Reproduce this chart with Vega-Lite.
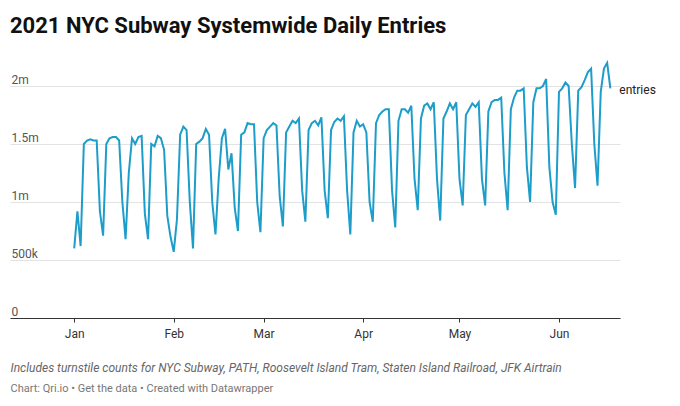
{
  "$schema": "https://vega.github.io/schema/vega-lite/v6.json",
  "width": 610,
  "height": 261,
  "autosize": {"type": "none"},
  "padding": {"left": 10, "top": 57, "right": 60, "bottom": 88},
  "config": {
    "font": "Roboto",
    "view": {"stroke": null},
    "axis": {"labelFont": "Roboto", "titleFont": "Roboto"}
  },
  "title": {
    "text": "2021 NYC Subway Systemwide Daily Entries",
    "anchor": "start",
    "frame": "group",
    "fontSize": 22,
    "fontWeight": "bold",
    "color": "#111",
    "offset": 19
  },
  "data": {
    "values": [
      {"d":"2021-01-01","e":600000},{"d":"2021-01-02","e":920000},{"d":"2021-01-03","e":620000},{"d":"2021-01-04","e":1500000},{"d":"2021-01-05","e":1530000},{"d":"2021-01-06","e":1540000},{"d":"2021-01-07","e":1530000},{"d":"2021-01-08","e":1530000},{"d":"2021-01-09","e":920000},{"d":"2021-01-10","e":710000},
      {"d":"2021-01-11","e":1500000},{"d":"2021-01-12","e":1550000},{"d":"2021-01-13","e":1560000},{"d":"2021-01-14","e":1560000},{"d":"2021-01-15","e":1530000},{"d":"2021-01-16","e":1000000},{"d":"2021-01-17","e":680000},{"d":"2021-01-18","e":1250000},{"d":"2021-01-19","e":1550000},{"d":"2021-01-20","e":1500000},
      {"d":"2021-01-21","e":1560000},{"d":"2021-01-22","e":1570000},{"d":"2021-01-23","e":900000},{"d":"2021-01-24","e":680000},{"d":"2021-01-25","e":1500000},{"d":"2021-01-26","e":1480000},{"d":"2021-01-27","e":1570000},{"d":"2021-01-28","e":1550000},{"d":"2021-01-29","e":1450000},{"d":"2021-01-30","e":880000},{"d":"2021-01-31","e":700000},
      {"d":"2021-02-01","e":570000},{"d":"2021-02-02","e":850000},{"d":"2021-02-03","e":1580000},{"d":"2021-02-04","e":1650000},{"d":"2021-02-05","e":1620000},{"d":"2021-02-06","e":1000000},{"d":"2021-02-07","e":600000},{"d":"2021-02-08","e":1500000},{"d":"2021-02-09","e":1520000},{"d":"2021-02-10","e":1550000},
      {"d":"2021-02-11","e":1630000},{"d":"2021-02-12","e":1580000},{"d":"2021-02-13","e":1000000},{"d":"2021-02-14","e":720000},{"d":"2021-02-15","e":1200000},{"d":"2021-02-16","e":1550000},{"d":"2021-02-17","e":1630000},{"d":"2021-02-18","e":1280000},{"d":"2021-02-19","e":1420000},{"d":"2021-02-20","e":950000},
      {"d":"2021-02-21","e":750000},{"d":"2021-02-22","e":1580000},{"d":"2021-02-23","e":1600000},{"d":"2021-02-24","e":1680000},{"d":"2021-02-25","e":1670000},{"d":"2021-02-26","e":1670000},{"d":"2021-02-27","e":1000000},{"d":"2021-02-28","e":740000},
      {"d":"2021-03-01","e":1550000},{"d":"2021-03-02","e":1620000},{"d":"2021-03-03","e":1650000},{"d":"2021-03-04","e":1680000},{"d":"2021-03-05","e":1660000},{"d":"2021-03-06","e":1050000},{"d":"2021-03-07","e":790000},{"d":"2021-03-08","e":1600000},{"d":"2021-03-09","e":1650000},{"d":"2021-03-10","e":1700000},
      {"d":"2021-03-11","e":1680000},{"d":"2021-03-12","e":1720000},{"d":"2021-03-13","e":1100000},{"d":"2021-03-14","e":830000},{"d":"2021-03-15","e":1620000},{"d":"2021-03-16","e":1680000},{"d":"2021-03-17","e":1700000},{"d":"2021-03-18","e":1660000},{"d":"2021-03-19","e":1730000},{"d":"2021-03-20","e":1100000},
      {"d":"2021-03-21","e":860000},{"d":"2021-03-22","e":1620000},{"d":"2021-03-23","e":1690000},{"d":"2021-03-24","e":1720000},{"d":"2021-03-25","e":1700000},{"d":"2021-03-26","e":1740000},{"d":"2021-03-27","e":1100000},{"d":"2021-03-28","e":720000},{"d":"2021-03-29","e":1600000},{"d":"2021-03-30","e":1700000},{"d":"2021-03-31","e":1650000},
      {"d":"2021-04-01","e":1670000},{"d":"2021-04-02","e":1600000},{"d":"2021-04-03","e":1000000},{"d":"2021-04-04","e":830000},{"d":"2021-04-05","e":1680000},{"d":"2021-04-06","e":1750000},{"d":"2021-04-07","e":1780000},{"d":"2021-04-08","e":1800000},{"d":"2021-04-09","e":1800000},{"d":"2021-04-10","e":1100000},
      {"d":"2021-04-11","e":780000},{"d":"2021-04-12","e":1700000},{"d":"2021-04-13","e":1800000},{"d":"2021-04-14","e":1800000},{"d":"2021-04-15","e":1770000},{"d":"2021-04-16","e":1830000},{"d":"2021-04-17","e":1200000},{"d":"2021-04-18","e":930000},{"d":"2021-04-19","e":1720000},{"d":"2021-04-20","e":1830000},
      {"d":"2021-04-21","e":1850000},{"d":"2021-04-22","e":1800000},{"d":"2021-04-23","e":1860000},{"d":"2021-04-24","e":1200000},{"d":"2021-04-25","e":840000},{"d":"2021-04-26","e":1720000},{"d":"2021-04-27","e":1780000},{"d":"2021-04-28","e":1850000},{"d":"2021-04-29","e":1800000},{"d":"2021-04-30","e":1860000},
      {"d":"2021-05-01","e":1200000},{"d":"2021-05-02","e":970000},{"d":"2021-05-03","e":1750000},{"d":"2021-05-04","e":1800000},{"d":"2021-05-05","e":1850000},{"d":"2021-05-06","e":1820000},{"d":"2021-05-07","e":1860000},{"d":"2021-05-08","e":1200000},{"d":"2021-05-09","e":970000},{"d":"2021-05-10","e":1780000},
      {"d":"2021-05-11","e":1860000},{"d":"2021-05-12","e":1880000},{"d":"2021-05-13","e":1880000},{"d":"2021-05-14","e":1900000},{"d":"2021-05-15","e":1250000},{"d":"2021-05-16","e":930000},{"d":"2021-05-17","e":1800000},{"d":"2021-05-18","e":1900000},{"d":"2021-05-19","e":1960000},{"d":"2021-05-20","e":1960000},
      {"d":"2021-05-21","e":1980000},{"d":"2021-05-22","e":1300000},{"d":"2021-05-23","e":1000000},{"d":"2021-05-24","e":1860000},{"d":"2021-05-25","e":1980000},{"d":"2021-05-26","e":1980000},{"d":"2021-05-27","e":2000000},{"d":"2021-05-28","e":2060000},{"d":"2021-05-29","e":1300000},{"d":"2021-05-30","e":1000000},{"d":"2021-05-31","e":890000},
      {"d":"2021-06-01","e":1950000},{"d":"2021-06-02","e":1980000},{"d":"2021-06-03","e":2030000},{"d":"2021-06-04","e":2000000},{"d":"2021-06-05","e":1500000},{"d":"2021-06-06","e":1120000},{"d":"2021-06-07","e":1960000},{"d":"2021-06-08","e":1990000},{"d":"2021-06-09","e":2050000},{"d":"2021-06-10","e":2120000},
      {"d":"2021-06-11","e":2150000},{"d":"2021-06-12","e":1500000},{"d":"2021-06-13","e":1140000},{"d":"2021-06-14","e":1950000},{"d":"2021-06-15","e":2150000},{"d":"2021-06-16","e":2200000},{"d":"2021-06-17","e":1980000}
    ]
  },
  "encoding": {
    "x": {
      "field": "d",
      "type": "temporal",
      "scale": {"domain": ["2020-12-12", "2021-06-20"]},
      "axis": {
        "format": "%b",
        "tickCount": {"interval": "month", "step": 1},
        "grid": false,
        "domainColor": "#333",
        "tickColor": "#333",
        "tickSize": 4,
        "labelColor": "#333",
        "labelFontSize": 12,
        "labelPadding": 6,
        "title": "Includes turnstile counts for NYC Subway, PATH, Roosevelt Island Tram, Staten Island Railroad, JFK Airtrain",
        "titleFontSize": 12,
        "titleFontWeight": "normal",
        "titleFontStyle": "italic",
        "titleColor": "#666",
        "titleAnchor": "start",
        "titleAlign": "left",
        "titleX": 0,
        "titleY": 44
      }
    },
    "y": {
      "field": "e",
      "type": "quantitative",
      "scale": {"domain": [0, 2250000]},
      "axis": {
        "values": [0, 500000, 1000000, 1500000, 2000000],
        "labelExpr": "datum.value == 0 ? '0' : datum.value < 1000000 ? (datum.value / 1000) + 'k' : (datum.value / 1000000) + 'm'",
        "domain": false,
        "ticks": false,
        "gridColor": "#e3e3e3",
        "labelAlign": "left",
        "labelBaseline": "bottom",
        "labelPadding": -1,
        "labelColor": "#555",
        "labelFontSize": 12,
        "title": "Chart: Qri.io • Get the data • Created with Datawrapper",
        "titleAngle": 0,
        "titleAlign": "left",
        "titleBaseline": "alphabetic",
        "titleX": 0,
        "titleY": 334,
        "titleFontSize": 11,
        "titleFontWeight": "normal",
        "titleColor": "#777"
      }
    }
  },
  "layer": [
    {
      "mark": {"type": "line", "color": "#1d9dc9", "strokeWidth": 2}
    },
    {
      "transform": [{"filter": "utcmonth(datum.d) == 5 && utcdate(datum.d) == 17"}],
      "mark": {"type": "text", "align": "left", "dx": 9, "dy": 2, "fontSize": 12, "color": "#222"},
      "encoding": {"text": {"value": "entries"}}
    }
  ]
}
